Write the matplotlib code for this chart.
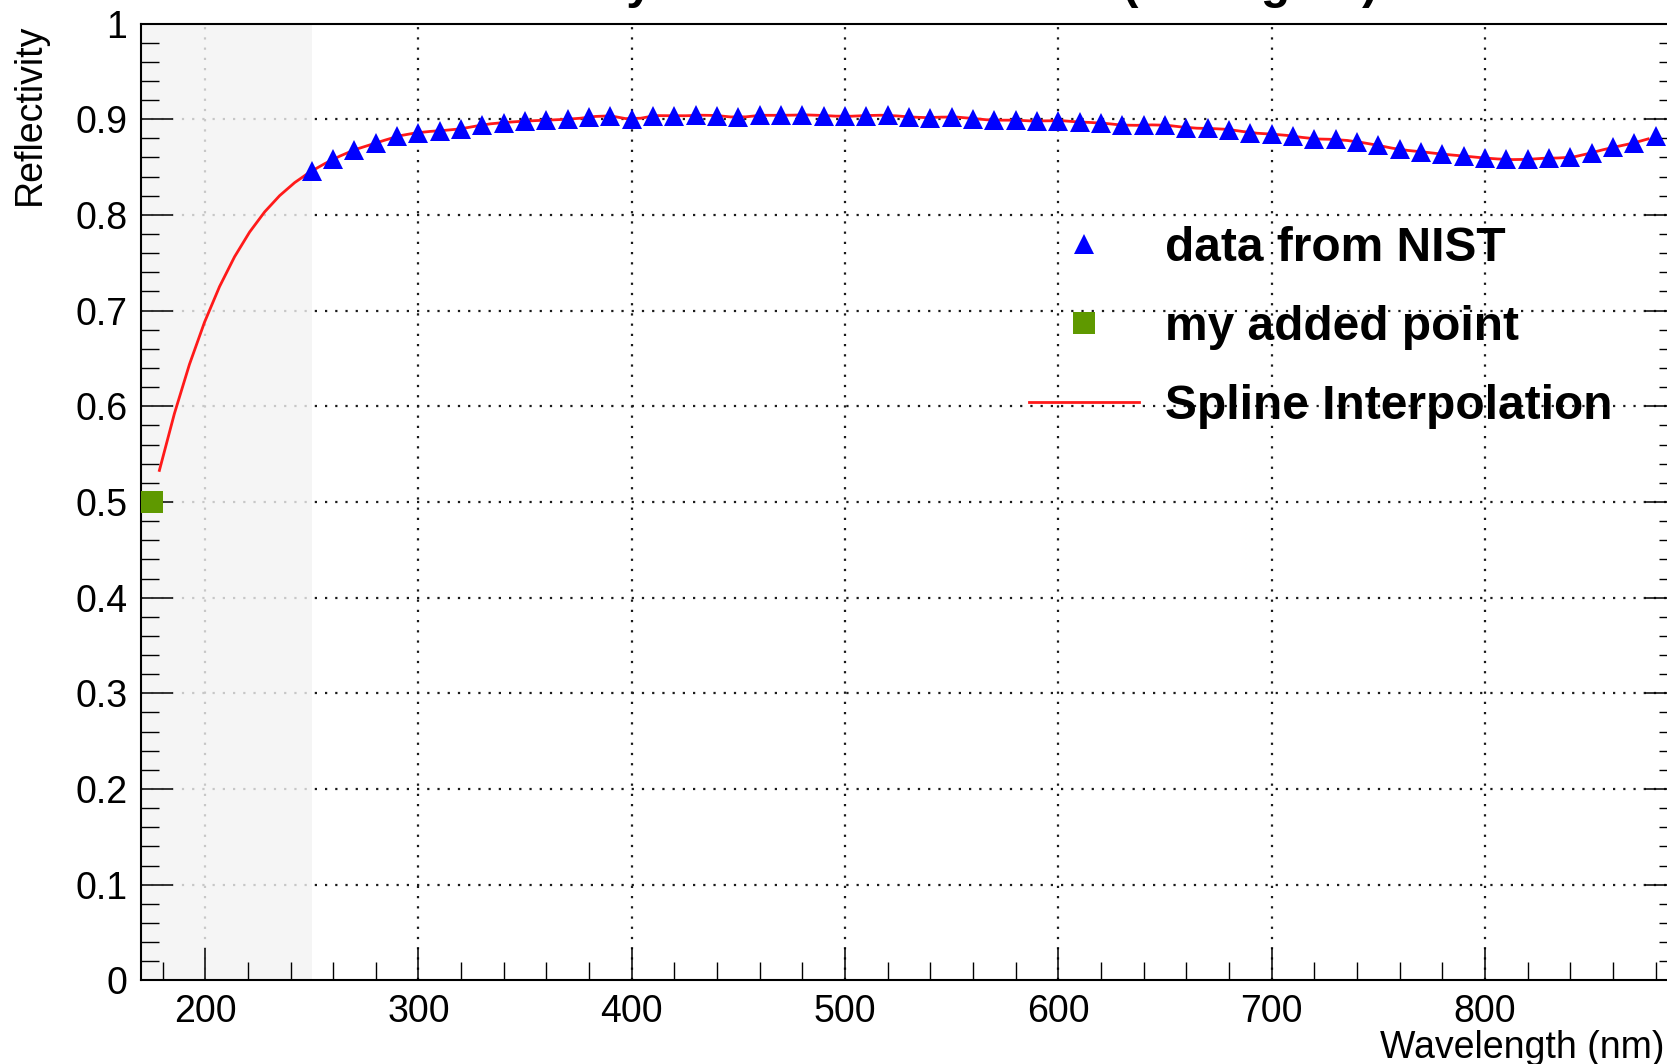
import numpy as np
import matplotlib
matplotlib.use("Agg")
import matplotlib.pyplot as plt
from matplotlib.ticker import MultipleLocator, FixedLocator

plt.rcParams['font.family'] = ['Liberation Sans', 'DejaVu Sans']

# ---------------- data ----------------
wavelength_nist = [250, 260, 270, 280, 290, 300, 310, 320, 330, 340, 350, 360, 370, 380,
                   390, 400, 410, 420, 430, 440, 450, 460, 470, 480, 490, 500, 510, 520,
                   530, 540, 550, 560, 570, 580, 590, 600, 610, 620, 630, 640, 650, 660,
                   670, 680, 690, 700, 710, 720, 730, 740, 750, 760, 770, 780, 790, 800,
                   810, 820, 830, 840, 850, 860, 870, 880]
reflect_nist = [0.846, 0.858, 0.868, 0.875, 0.882, 0.886, 0.888, 0.890, 0.894, 0.8965,
                0.898, 0.899, 0.900, 0.902, 0.9035, 0.900, 0.9035, 0.9035, 0.904, 0.9038,
                0.902, 0.904, 0.904, 0.9045, 0.9038, 0.903, 0.9038, 0.904, 0.9024, 0.9017,
                0.9024, 0.9007, 0.899, 0.899, 0.898, 0.8986, 0.897, 0.896, 0.8938, 0.8938,
                0.8938, 0.8913, 0.8903, 0.8892, 0.886, 0.8844, 0.8823, 0.8795, 0.8788,
                0.8764, 0.8726, 0.8684, 0.866, 0.8635, 0.8615, 0.8594, 0.858, 0.858,
                0.8594, 0.860, 0.865, 0.8705, 0.8753, 0.8823]
added_wavelength = [175]
added_reflect = [0.5]

x_major_ticks = [200, 300, 400, 500, 600, 700, 800, 900]
y_major_ticks = [0, 0.1, 0.2, 0.3, 0.4, 0.5, 0.6, 0.7, 0.8, 0.9, 1]
y_tick_labels = ['0', '0.1', '0.2', '0.3', '0.4', '0.5', '0.6', '0.7', '0.8', '0.9', '1']
shaded_range = [170, 250]
legend_labels = ['data from NIST', 'my added point', 'Spline Interpolation']
title_text = 'Reflectivity of Aluminum Mirror (45 degree)'


# ---------------- spline (FMM end conditions, as ROOT TSpline3) ----------------
def fmm_spline(x, y):
    x = np.asarray(x, float)
    y = np.asarray(y, float)
    n = len(x)
    h = np.diff(x)
    d = np.diff(y) / h
    A = np.zeros((n, n))
    b = np.zeros(n)
    for i in range(1, n - 1):
        A[i, i - 1] = h[i - 1]
        A[i, i] = 2 * (h[i - 1] + h[i])
        A[i, i + 1] = h[i]
        b[i] = 6 * (d[i] - d[i - 1])

    def third_dd(xx, yy):
        f1 = np.diff(yy) / np.diff(xx)
        f2 = np.diff(f1) / (xx[2:] - xx[:-2])
        f3 = np.diff(f2) / (xx[3:] - xx[:-3])
        return f3[0]

    A[0, 0] = -1.0 / h[0]
    A[0, 1] = 1.0 / h[0]
    b[0] = 6 * third_dd(x[:4], y[:4])
    A[n - 1, n - 2] = -1.0 / h[-1]
    A[n - 1, n - 1] = 1.0 / h[-1]
    b[n - 1] = 6 * third_dd(x[-4:], y[-4:])
    M = np.linalg.solve(A, b)

    def ev(t):
        t = np.asarray(t, float)
        idx = np.clip(np.searchsorted(x, t) - 1, 0, n - 2)
        x0, x1 = x[idx], x[idx + 1]
        hh = x1 - x0
        a = (x1 - t) / hh
        bb = (t - x0) / hh
        return (a * y[idx] + bb * y[idx + 1]
                + ((a ** 3 - a) * M[idx] + (bb ** 3 - bb) * M[idx + 1]) * hh ** 2 / 6.0)
    return ev


knots_x = added_wavelength + wavelength_nist
knots_y = added_reflect + reflect_nist
spl = fmm_spline(knots_x, knots_y)
npx = 100
dx = (knots_x[-1] - knots_x[0]) / npx
xs = knots_x[0] + (np.arange(npx) + 0.5) * dx
ys = spl(xs)

# ---------------- figure ----------------
W, H = 1667, 1064
fig = plt.figure(figsize=(W / 100, H / 100), dpi=100)
xmin, xmax = 170, 890
left_px, top_px, bottom_px = 141.2, 23.5, 980.4
px_per_nm = 2.133
width_px = (xmax - xmin) * px_per_nm
ax = fig.add_axes([left_px / W, 1 - bottom_px / H, width_px / W, (bottom_px - top_px) / H])
ax.set_xlim(xmin, xmax)
ax.set_ylim(0, 1)
ax.set_axisbelow(False)

# grid (dotted, at major ticks)
grid_kw = dict(color='#1a1a1a', lw=1.6, ls=(0, (1, 3.6)), zorder=1.0)
ax.vlines([t for t in x_major_ticks if xmin < t < xmax], 0, 1, **grid_kw)
ax.hlines([t for t in y_major_ticks if 0 < t < 1], xmin, xmax, **grid_kw)

# shaded region
ax.axvspan(shaded_range[0], shaded_range[1], color='#f3f3f3', alpha=0.8, lw=0, zorder=1.2)

line, = ax.plot(xs, ys, color='#ff1a1a', lw=2.0, zorder=3)
tri, = ax.plot(wavelength_nist, reflect_nist, ls='none', marker='^', ms=15,
               color='#0000ff', mew=0, zorder=4)
sq, = ax.plot(added_wavelength, added_reflect, ls='none', marker='s', ms=16,
              color='#5f9900', mew=0, zorder=4)

# ticks
ax.xaxis.set_major_locator(FixedLocator(x_major_ticks))
ax.xaxis.set_minor_locator(MultipleLocator(20))
ax.yaxis.set_major_locator(FixedLocator(y_major_ticks))
ax.yaxis.set_minor_locator(MultipleLocator(0.02))
ax.set_yticklabels(y_tick_labels)
ax.tick_params(which='both', direction='in', top=False, right=True, colors='black',
               labelsize=27)
ax.tick_params(which='major', length=23, width=1.1, pad=10)
ax.tick_params(which='minor', length=13, width=1.0)
for s in ax.spines.values():
    s.set_linewidth(1.5)
    s.set_color('black')

# axis titles (ROOT style: right / top aligned)
ax.text(1.0 - 12 / width_px, -0.081, 'Wavelength (nm)', transform=ax.transAxes,
        ha='right', va='baseline', fontsize=27)
fig.text(30 / W, 1 - top_px / H, 'Reflectivity', rotation=90, ha='center', va='top',
         fontsize=27)

# title (mostly cut off by the top edge)
fig.text(887 / W, 1 + 2.5 / H, title_text, ha='center', va='baseline', fontsize=34.5,
         fontweight='bold')

# legend
leg = ax.legend([tri, sq, line], legend_labels, loc='upper left',
                bbox_to_anchor=(1029 / W, 1 - 226 / H), bbox_transform=fig.transFigure,
                frameon=False, borderpad=0, borderaxespad=0, handlelength=2.3,
                handletextpad=0.54, labelspacing=0.71,
                prop={'size': 34.5, 'weight': 'bold'})
leg.set_zorder(5)

fig.savefig('out.png', dpi=100)
